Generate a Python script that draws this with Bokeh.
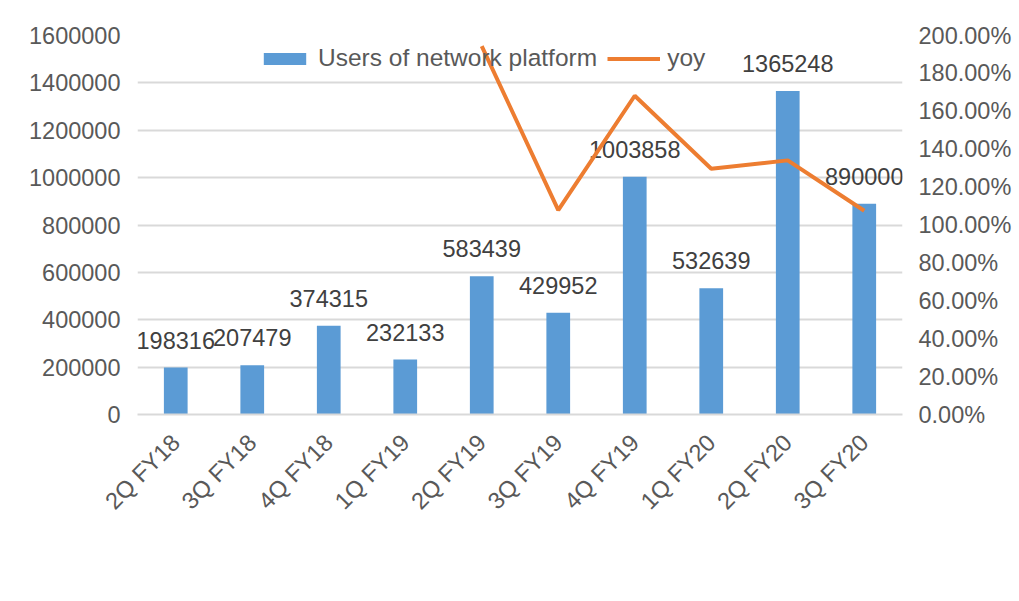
import math
from bokeh.plotting import figure
from bokeh.models import (FactorRange, Range1d, LinearAxis, FixedTicker,
                          NumeralTickFormatter, ColumnDataSource, Legend, LegendItem)
from bokeh.embed import file_html
from bokeh.resources import INLINE
from bokeh.core.properties import value

quarters = ["2Q FY18", "3Q FY18", "4Q FY18", "1Q FY19", "2Q FY19",
            "3Q FY19", "4Q FY19", "1Q FY20", "2Q FY20", "3Q FY20"]
users = [198316, 207479, 374315, 232133, 583439, 429952, 1003858, 532639, 1365248, 890000]
yoy_quarters = ["2Q FY19", "3Q FY19", "4Q FY19", "1Q FY20", "2Q FY20", "3Q FY20"]
yoy = [1.944, 1.079, 1.682, 1.297, 1.341, 1.075]
left_ticks = [0, 200000, 400000, 600000, 800000, 1000000, 1200000, 1400000, 1600000]
right_ticks = [0.0, 0.2, 0.4, 0.6, 0.8, 1.0, 1.2, 1.4, 1.6, 1.8, 2.0]

FONT = "Liberation Sans"
FS = "23.5px"
TICK_COLOR = "#595959"
TEXT_COLOR = "#404040"
BAR_COLOR = "#5B9BD5"
LINE_COLOR = "#ED7D31"
GRID_COLOR = "#d9d9d9"

src = ColumnDataSource(dict(q=quarters, u=users, label=[str(v) for v in users]))

p = figure(x_range=FactorRange(factors=quarters, range_padding=0),
           y_range=Range1d(0, 1600000),
           frame_width=765, frame_height=379,
           output_backend="svg", toolbar_location=None,
           min_border_left=137, min_border_right=112,
           min_border_top=35, min_border_bottom=183)
p.outline_line_color = None
p.background_fill_color = "white"
p.border_fill_color = "white"

# left axis
ya = p.yaxis[0]
ya.ticker = FixedTicker(ticks=left_ticks)
ya.formatter = NumeralTickFormatter(format="0")
ya.axis_line_color = None
ya.major_tick_line_color = None
ya.minor_tick_line_color = None
ya.major_tick_out = 0
ya.minor_tick_out = 0
ya.major_label_text_font = FONT
ya.major_label_text_font_size = FS
ya.major_label_text_color = TICK_COLOR
ya.major_label_standoff = 17

p.ygrid.ticker = FixedTicker(ticks=left_ticks)
p.ygrid.grid_line_color = GRID_COLOR
p.ygrid.grid_line_width = 2
p.xgrid.grid_line_color = None

# right axis
p.extra_y_ranges = {"yoy": Range1d(0, 2)}
ra = LinearAxis(y_range_name="yoy", ticker=FixedTicker(ticks=right_ticks),
                formatter=NumeralTickFormatter(format="0.00%"))
ra.axis_line_color = None
ra.major_tick_line_color = None
ra.minor_tick_line_color = None
ra.major_tick_out = 0
ra.minor_tick_out = 0
ra.major_label_text_font = FONT
ra.major_label_text_font_size = FS
ra.major_label_text_color = TICK_COLOR
ra.major_label_standoff = 16
p.add_layout(ra, "right")

# x axis
xa = p.xaxis[0]
xa.axis_line_color = GRID_COLOR
xa.axis_line_width = 2
xa.major_tick_line_color = None
xa.minor_tick_line_color = None
xa.major_tick_out = 0
xa.minor_tick_out = 0
xa.major_label_orientation = math.pi / 4
xa.major_label_text_font = FONT
xa.major_label_text_font_size = FS
xa.major_label_text_color = TICK_COLOR
xa.major_label_standoff = 24

bars = p.vbar(x="q", top="u", width=0.31, source=src,
              fill_color=BAR_COLOR, line_color=None)
p.text(x="q", y="u", text="label", source=src, text_align="center",
       text_baseline="bottom", y_offset=-19, text_font=value(FONT),
       text_font_size=FS, text_color=TEXT_COLOR)
line = p.line(x=yoy_quarters, y=yoy, y_range_name="yoy",
              line_color=LINE_COLOR, line_width=4)

legend = Legend(items=[LegendItem(label="Users of network platform", renderers=[bars]),
                       LegendItem(label="yoy", renderers=[line])],
                orientation="horizontal", location=(121, 342),
                border_line_color=None, background_fill_alpha=0,
                label_text_font=FONT, label_text_font_size="24.5px",
                label_text_color=TICK_COLOR,
                glyph_width=53, glyph_height=15, spacing=10, padding=0,
                margin=0, label_standoff=7)
p.add_layout(legend)

open("out.html", "w").write(file_html(p, INLINE))
